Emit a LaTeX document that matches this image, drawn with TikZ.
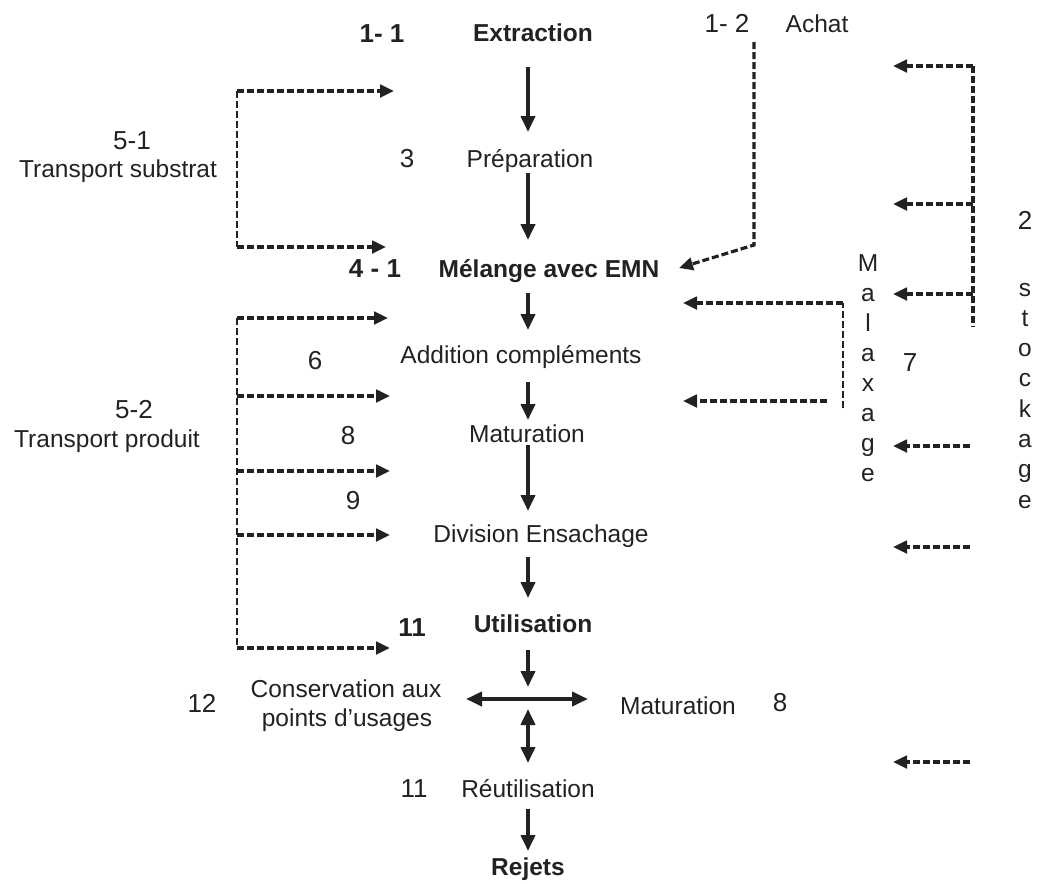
\documentclass[tikz,border=0pt]{standalone}
\usepackage{fontspec}
\setmainfont{Liberation Sans}
\usetikzlibrary{arrows.meta}
\definecolor{ink}{HTML}{222222}
\begin{document}
\begin{tikzpicture}[x=1pt,y=-1pt,
  lbl/.style={inner sep=0pt, anchor=base, text=ink, font=\fontsize{24.5}{29}\selectfont},
  blbl/.style={lbl, font=\fontsize{24.5}{29}\selectfont\bfseries},
  num/.style={lbl, font=\fontsize{26}{30}\selectfont},
  bnum/.style={lbl, font=\fontsize{26}{30}\selectfont\bfseries},
  flow/.style={draw=ink, line width=3.8pt, -{Triangle[length=16pt,width=14pt]}},
  flowboth/.style={draw=ink, line width=3.8pt, {Triangle[length=16pt,width=14pt]}-{Triangle[length=16pt,width=14pt]}},
  feed/.style={draw=ink, line width=3.2pt, dash pattern=on 7pt off 3pt, -{Triangle[length=14pt,width=12.5pt]}},
  feedline/.style={draw=ink, line width=2.6pt, dash pattern=on 7pt off 3pt},
]
\useasboundingbox (0,0) rectangle (1037,884);

% ---- labels of the main chain
\node[bnum] (n11)    at (382,42)  {1- 1};
\node[blbl] (extr)   at (533,41)  {Extraction};
\node[num]  (n12)    at (727,32)  {1- 2};
\node[lbl]  (achat)  at (817,32)  {Achat};
\node[num]  (n3)     at (407,167) {3};
\node[lbl]  (prep)   at (530,167) {Préparation};
\node[num]  (n51)    at (132,149) {5-1};
\node[lbl]  (tsub)   at (118,177) {Transport substrat};
\node[num]  (n2)     at (1025,229) {2};
\node[bnum] (n41)    at (375,277) {4 - 1};
\node[blbl] (melange) at (549,277) {Mélange avec EMN};
\node[num]  (n6)     at (315,369) {6};
\node[lbl]  (addit)  at (521,363) {Addition compléments};
\node[num]  (n7)     at (910,371) {7};
\node[num]  (n52)    at (134,418) {5-2};
\node[lbl]  (tprod)  at (107,447) {Transport produit};
\node[num]  (n8a)    at (348,444) {8};
\node[lbl]  (matur)  at (527,442) {Maturation};
\node[num]  (n9)     at (353,509) {9};
\node[lbl]  (divis)  at (541,542) {Division Ensachage};
\node[bnum] (n11b)   at (412,636) {11};
\node[blbl] (util)   at (533,632) {Utilisation};
\node[num]  (n12b)   at (202,712) {12};
\node[lbl]  (cons1)  at (346,697) {Conservation aux};
\node[lbl]  (cons2)  at (347,726) {points d’usages};
\node[lbl]  (matur2) at (678,714) {Maturation};
\node[num]  (n8b)    at (780,711) {8};
\node[num]  (n11c)   at (414,797) {11};
\node[lbl]  (reut)   at (528,797) {Réutilisation};
\node[blbl] (rejets) at (528,875) {Rejets};

% ---- vertical words
\foreach \ch [count=\i from 0] in {M,a,l,a,x,a,g,e}
  \node[lbl] (malax\i) at (868,271+30*\i) {\ch};
\foreach \ch [count=\i from 0] in {s,t,o,c,k,a,g,e}
  \node[lbl] (stock\i) at (1025,296+30.3*\i) {\ch};

% ---- main chain arrows
\coordinate (a1s) at (528,67);  \coordinate (a1e) at (528,132);
\coordinate (a2s) at (528,173); \coordinate (a2e) at (528,240);
\coordinate (a3s) at (528,293); \coordinate (a3e) at (528,330);
\coordinate (a4s) at (528,382); \coordinate (a4e) at (528,420);
\coordinate (a5s) at (528,445); \coordinate (a5e) at (528,511);
\coordinate (a6s) at (528,557); \coordinate (a6e) at (528,598);
\coordinate (a7s) at (528,650); \coordinate (a7e) at (528,687);
\coordinate (hl) at (466,699);  \coordinate (hr) at (588,699);
\coordinate (vt) at (528,709);  \coordinate (vb) at (528,763);
\coordinate (a8s) at (528,809); \coordinate (a8e) at (528,851);
\draw[flow] (a1s) -- (a1e);
\draw[flow] (a2s) -- (a2e);
\draw[flow] (a3s) -- (a3e);
\draw[flow] (a4s) -- (a4e);
\draw[flow] (a5s) -- (a5e);
\draw[flow] (a6s) -- (a6e);
\draw[flow] (a7s) -- (a7e);
\draw[flowboth] (hl) -- (hr);
\draw[flowboth] (vt) -- (vb);
\draw[flow] (a8s) -- (a8e);

% ---- transport substrat bracket
\coordinate (s1t) at (237,91);  \coordinate (s1ta) at (394,91);
\coordinate (s1b) at (237,247); \coordinate (s1ba) at (386,247);
\draw[feedline] (s1t) -- (s1b);
\draw[feed] (s1t) -- (s1ta);
\draw[feed] (s1b) -- (s1ba);

% ---- transport produit bracket
\coordinate (p0) at (237,318); \coordinate (p0a) at (388,318);
\coordinate (p1) at (237,396); \coordinate (p1a) at (390,396);
\coordinate (p2) at (237,471); \coordinate (p2a) at (390,471);
\coordinate (p3) at (237,535); \coordinate (p3a) at (390,535);
\coordinate (p4) at (237,648); \coordinate (p4a) at (390,648);
\draw[feedline] (p0) -- (p4);
\foreach \k in {0,...,4} \draw[feed] (p\k) -- (p\k a);

% ---- achat
\coordinate (b1) at (754,42); \coordinate (b2) at (754,245); \coordinate (b3) at (679,268);
\draw[feed] (b1) -- (b2) -- (b3);

% ---- stockage feeds
\coordinate (k0) at (973,66);  \coordinate (k0a) at (893,66);
\coordinate (k1) at (973,204); \coordinate (k1a) at (893,204);
\coordinate (k2) at (973,294); \coordinate (k2a) at (893,294);
\coordinate (kend) at (973,327);
\draw[feedline, line width=3.4pt] (k0) -- (kend);
\foreach \k in {0,1,2} \draw[feed] (k\k) -- (k\k a);
\coordinate (k3) at (970,446); \coordinate (k3a) at (893,446);
\coordinate (k4) at (970,547); \coordinate (k4a) at (893,547);
\coordinate (k5) at (970,762); \coordinate (k5a) at (893,762);
\foreach \k in {3,4,5} \draw[feed] (k\k) -- (k\k a);

% ---- malaxage feeds
\coordinate (m0) at (843,408); \coordinate (m1) at (843,303); \coordinate (m1a) at (683,303);
\coordinate (m2) at (827,401); \coordinate (m2a) at (683,401);
\draw[feedline] (m0) -- (m1);
\draw[feed] (m1) -- (m1a);
\draw[feed] (m2) -- (m2a);

\end{tikzpicture}
\end{document}
